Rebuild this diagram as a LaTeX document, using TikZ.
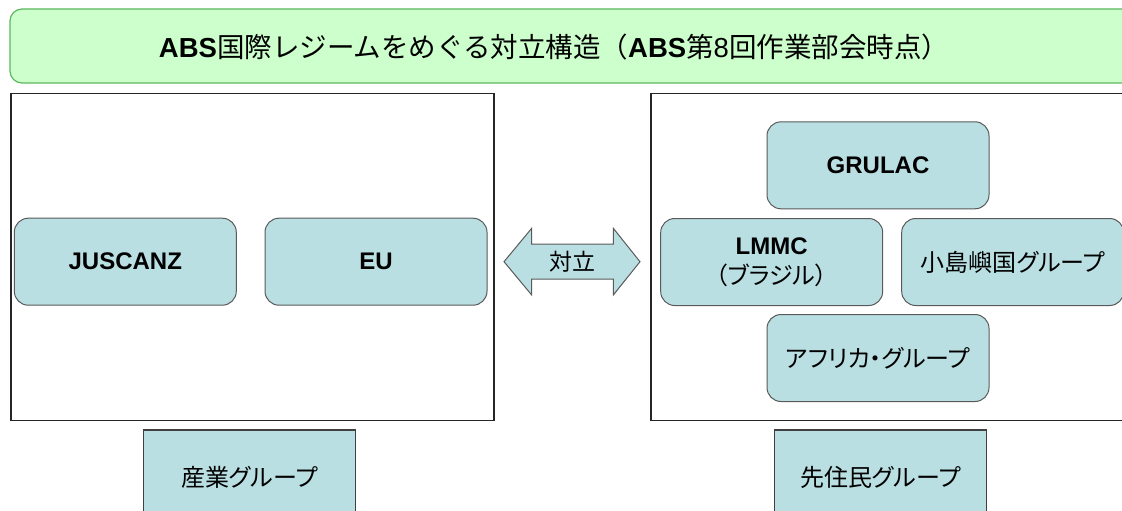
\documentclass[tikz,border=0pt]{standalone}
\usepackage{fontspec}
\setmainfont{Liberation Sans}
\newfontfamily\cjk{Noto Sans CJK JP}
\newfontfamily\cjkp[RawFeature=+palt]{Noto Sans CJK JP}
\definecolor{titlefill}{HTML}{CCFFCC}
\definecolor{titledraw}{HTML}{5DB85D}
\definecolor{boxfill}{HTML}{B9DFE2}
\definecolor{boxdraw}{HTML}{5A5A5A}
\begin{document}
\begin{tikzpicture}[x=1pt,y=-1pt,
  grp/.style={draw=boxdraw, fill=boxfill, line width=1pt, rounded corners=14pt,
    minimum width=222pt, minimum height=87pt, inner sep=0pt, align=center},
  frame/.style={draw=black!85, line width=1.3pt, fill=white, inner sep=0pt,
    minimum width=483pt, minimum height=327pt},
  sqbox/.style={draw=black!75, fill=boxfill, line width=1.5pt, inner sep=0pt,
    minimum width=212pt, minimum height=94pt},
  latb/.style={font=\fontsize{24}{28}\selectfont\bfseries},
  jp/.style={font=\fontsize{24}{28}\selectfont\cjkp},
]
\useasboundingbox (0,0) rectangle (1122,511);
\clip (0,0) rectangle (1122,511);
\fill[white] (0,0) rectangle (1122,511);
% title bar
\path[draw=titledraw, fill=titlefill, line width=1.2pt, rounded corners=12pt]
  (10,9) rectangle (1145,83);
\node[inner sep=0pt] (title) at (554,47)
  {\fontsize{27.5}{32}\selectfont\textbf{ABS}{\cjk 国際レジームをめぐる対立構造（}\textbf{ABS}{\cjk 第}8{\cjk 回作業部会時点）}};
% frames
\node[frame] (leftframe) at (252.5,257) {};
\node[frame] (rightframe) at (892.5,257) {};
% left groups
\node[grp, latb] (juscanz) at (125.3,261.7) {JUSCANZ};
\node[grp, latb] (eu) at (376,261.7) {EU};
% right groups
\node[grp, latb] (grulac) at (878,165.3) {GRULAC};
\node[grp, font=\fontsize{24}{30}\selectfont] (lmmc) at (771.7,262)
  {\textbf{LMMC}\\{\cjkp （ブラジル）}};
\node[grp, jp] (island) at (1012.7,262) {小島嶼国グループ};
\node[grp, jp] (africa) at (878,358) {アフリカ・グループ};
% bottom boxes
\node[sqbox, jp] (industry) at (249.5,477) {産業グループ};
\node[sqbox, jp] (indigenous) at (880.5,477) {先住民グループ};
% conflict double arrow
\path[draw=boxdraw, fill=boxfill, line width=1pt, line join=miter]
  (504,261.7) -- (531.7,228.3) -- (531.7,244) -- (613.3,244) -- (613.3,228.3)
  -- (640,261.7) -- (613.3,295) -- (613.3,279) -- (531.7,279) -- (531.7,295) -- cycle;
\node[inner sep=0pt, font=\fontsize{23}{28}\selectfont\cjk] (conflict) at (572,262) {対立};
\end{tikzpicture}
\end{document}
